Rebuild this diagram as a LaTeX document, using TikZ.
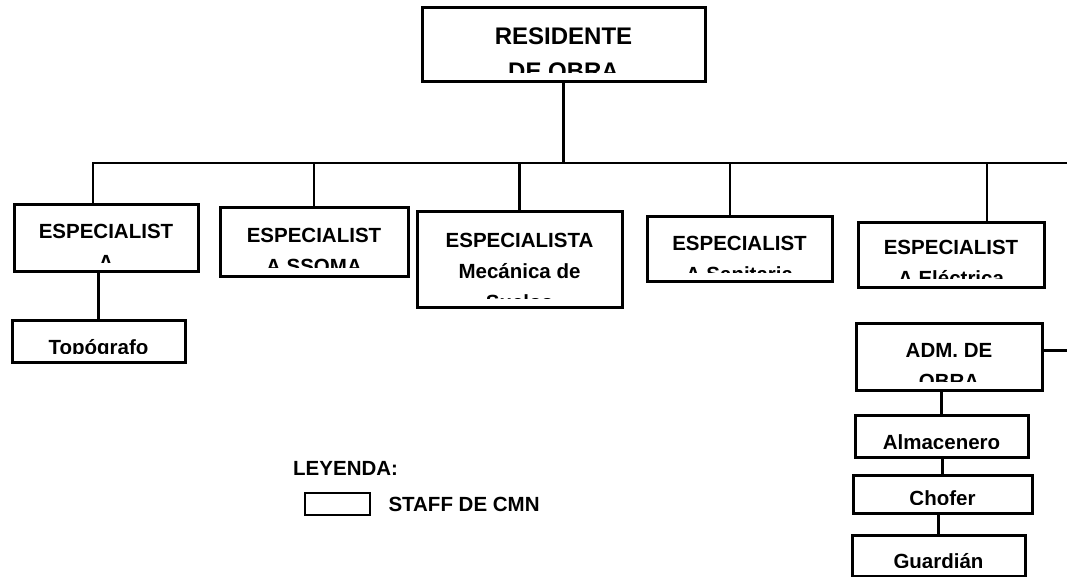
\documentclass[tikz,border=0pt]{standalone}
\usepackage{fontspec}
\setmainfont{Liberation Sans}
\usetikzlibrary{positioning}

\begin{document}
\begin{tikzpicture}[
    x=1pt, y=-1pt,
    node distance=17pt,
    every node/.style={font=\fontsize{20.5}{31}\selectfont\bfseries},
    box/.style={rectangle, draw, line width=3pt, inner sep=0pt},
    lbl/.style={draw=none, fill=none, inner sep=0pt, minimum width=0pt, minimum height=0pt, align=center, anchor=north},
    boxtext/.style 2 args={path picture={
        \clip ([yshift=9pt]path picture bounding box.south west) rectangle (path picture bounding box.north east);
        \node[lbl, #1] at ([yshift=-18pt]path picture bounding box.north) {#2};
    }},
    line/.style={line width=2.6pt}
]
\useasboundingbox (0,0) rectangle (1067,577);

% ================= DIRECCION =================
\node[box, minimum width=283, minimum height=74,
      boxtext={font=\fontsize{24}{35}\selectfont\bfseries}{RESIDENTE\\DE OBRA}] (res) at (563.5,45) {};

% ================= ESPECIALISTAS =================
\node[box, minimum width=184, minimum height=66, boxtext={}{ESPECIALIST\\A}] (espA) at (106,238) {};
\node[box, minimum width=188, minimum height=68, boxtext={yshift=-1pt}{ESPECIALIST\\A SSOMA}] (espSsoma) at (314,242) {};
\node[box, minimum width=205, minimum height=95, boxtext={yshift=-2pt}{ESPECIALISTA\\Mecánica de\\Suelos}] (espMec) at (519.5,259.5) {};
\node[box, minimum width=185, minimum height=64, boxtext={}{ESPECIALIST\\A Sanitaria}] (espSan) at (739.5,249) {};
\node[box, minimum width=186, minimum height=64, boxtext={yshift=2pt}{ESPECIALIST\\A Eléctrica}] (espElec) at (951,255) {};

\node[box, minimum width=173, minimum height=42, boxtext={}{Topógrafo}] (topo) at (98.5,341) {};

% ================= ADMINISTRACION =================
\node[box, minimum width=186, minimum height=67, boxtext={yshift=-1pt}{ADM. DE\\OBRA}] (adm) at (949,356.5) {};
\node[box, minimum width=173, minimum height=42, boxtext={}{Almacenero}] (alm) at (941.5,436) {};
\node[box, minimum width=179, minimum height=38, boxtext={yshift=4pt}{Chofer}] (chofer) at (942.5,494) {};
\node[box, minimum width=173, minimum height=41, boxtext={yshift=1pt}{Guardián}] (guard) at (938.5,555.5) {};

% ================= LEYENDA =================
\node[anchor=west, inner sep=0pt] (leyenda) at (293,468) {LEYENDA:};
\node[box, line width=2.6pt, minimum width=65, minimum height=22] (legbox) at (337.5,504) {};
\node[right=17pt of legbox, inner sep=0pt] (legtxt) {STAFF DE CMN};

% ================= LINEAS =================
\coordinate (barL) at (93,163);
\coordinate (barR) at (1067,163);
\coordinate (dSan) at (730,163);
\coordinate (dElec) at (987,163);

\draw[line] (res.south) -- (res.south |- barL);
\draw[line] (espA.north -| barL) -- (barL) -- (barR);
\draw[line] (espSsoma.north) -- (espSsoma.north |- barL);
\draw[line] (espMec.north) -- (espMec.north |- barL);
\draw[line] (dSan) -- (dSan |- espSan.north);
\draw[line] (dElec) -- (dElec |- espElec.north);

\draw[line] (topo.north) -- (topo.north |- espA.south);

\draw[line] ([yshift=6pt]adm.east) -- ([yshift=6pt]adm.east -| barR);
\draw[line] (alm.north) -- (alm.north |- adm.south);
\draw[line] (chofer.north) -- (chofer.north |- alm.south);
\draw[line] (guard.north) -- (guard.north |- chofer.south);

\end{tikzpicture}
\end{document}
